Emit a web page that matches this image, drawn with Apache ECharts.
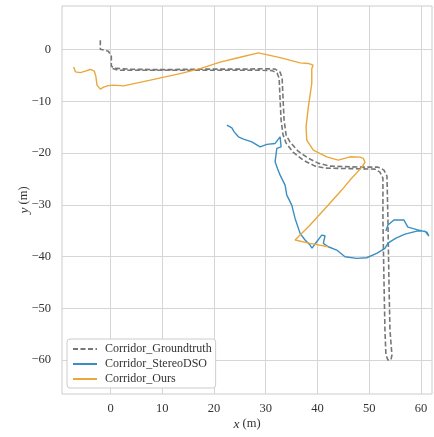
<!DOCTYPE html>
<html>
<head>
<meta charset="utf-8">
<script src="https://cdn.jsdelivr.net/npm/echarts@6/dist/echarts.min.js"></script>
<style>
html,body{margin:0;padding:0;background:#fff;}
#chart{width:434px;height:437px;}
</style>
</head>
<body>
<div id="chart"></div>
<script>
// ---- data (metres) ----
const seriesNames = ['Corridor_Groundtruth', 'Corridor_StereoDSO', 'Corridor_Ours'];

const gtX = [-1.99,-1.99,-1.22,-0.44,-0.06,0.14,0.14,0.71,3.80,9.60,17.32,25.05,29.88,31.81,32.78,33.17,33.36,33.55,33.94,34.71,36.25,38.18,40.11,42.43,48.22,51.70,52.86,53.44,53.63,53.82,54.02,54.40,54.21,53.63,53.24,53.05,52.86,52.66,52.66,52.08,51.12,46.29,41.46,39.53,37.22,35.28,33.94,33.36,32.97,32.78,32.59,32.20,31.23,28.91,23.12,17.32,11.53,5.74,1.49,0.14];
const gtY = [1.80,0.06,-0.14,-0.33,-0.71,-1.29,-3.22,-3.61,-3.80,-3.90,-3.80,-3.80,-3.71,-3.80,-4.38,-5.54,-9.79,-13.65,-16.54,-17.90,-19.63,-20.99,-21.95,-22.53,-22.72,-22.72,-23.30,-24.46,-32.95,-44.54,-54.19,-59.02,-59.98,-59.98,-59.02,-54.19,-44.54,-32.95,-24.85,-23.69,-23.11,-23.01,-22.92,-22.53,-21.37,-19.83,-18.09,-16.54,-13.65,-9.79,-5.54,-4.58,-4.09,-4.00,-4.00,-4.00,-4.00,-4.00,-4.00,-3.61];

const dsoX = [22.48,23.45,23.89,24.72,25.69,27.31,28.91,30.20,31.81,32.78,32.97,32.14,31.81,32.30,32.78,33.74,34.07,35.03,35.67,36.64,37.60,38.57,38.95,39.86,40.83,41.46,41.14,42.10,43.72,45.33,47.59,49.52,51.45,53.05,53.63,55.18,56.92,59.23,60.78,61.55,61.16,59.23,57.49,56.72,54.79,53.63,53.24];
const dsoY = [-14.61,-15.14,-15.91,-16.87,-17.32,-17.84,-18.80,-18.34,-18.15,-16.87,-18.80,-19.11,-21.70,-23.10,-24.27,-26.20,-28.13,-30.06,-32.63,-35.52,-36.81,-37.78,-38.36,-37.14,-35.85,-35.98,-37.45,-38.11,-38.74,-40.04,-40.35,-40.23,-39.38,-38.42,-37.39,-36.43,-35.66,-35.08,-35.08,-36.04,-35.27,-34.79,-34.31,-32.95,-32.95,-33.92,-35.08];

const oursX = [-7.15,-6.82,-5.85,-4.88,-3.92,-3.15,-2.86,-2.63,-1.99,-1.35,-0.44,0.58,2.51,7.67,13.46,17.32,21.18,25.05,28.58,32.78,36.64,38.24,39.15,38.90,38.90,38.24,37.79,37.93,39.20,41.79,44.03,46.29,48.22,48.86,49.19,48.61,46.29,44.69,41.79,38.57,35.67,38.57,42.10];
const oursY = [-3.36,-4.32,-4.48,-4.19,-3.86,-4.19,-5.15,-6.89,-7.66,-7.28,-6.99,-6.89,-7.03,-5.93,-4.67,-3.71,-2.45,-1.49,-0.66,-1.58,-2.59,-2.70,-3.03,-3.71,-6.56,-11.08,-14.94,-17.51,-19.44,-20.73,-21.37,-20.73,-20.79,-21.04,-21.76,-22.72,-25.23,-27.16,-30.39,-33.92,-36.81,-37.45,-38.11];

const xTicks = [0, 10, 20, 30, 40, 50, 60];
const yTicks = [0, -10, -20, -30, -40, -50, -60];

const zip = (xs, ys) => xs.map((x, i) => [x, ys[i]]);
const fmt = v => String(v).replace('-', '\u2212');
const font = "'Liberation Serif', 'Times New Roman', serif";

const chart = echarts.init(document.getElementById('chart'), null, {renderer: 'canvas'});
chart.setOption({
  animation: false,
  backgroundColor: '#ffffff',
  textStyle: {fontFamily: font},
  grid: {left: 62, right: 2, top: 6, bottom: 43, show: true, borderColor: '#cccccc', borderWidth: 1, backgroundColor: 'transparent'},
  xAxis: {
    type: 'value', min: -9.4, max: 62.15,
    axisLine: {show: false},
    axisTick: {show: false, customValues: xTicks},
    axisLabel: {customValues: xTicks, formatter: fmt, fontFamily: font, fontSize: 12.5, color: '#333333', margin: 8},
    splitLine: {show: true, lineStyle: {color: '#d6d6d6', width: 1}},
    name: '{i|x} (m)', nameLocation: 'middle', nameGap: 23, nameMoveOverlap: false,
    nameTextStyle: {fontFamily: font, fontSize: 12.5, color: '#333333', rich: {i: {fontStyle: 'italic', fontFamily: font, fontSize: 13.5, color: '#333333'}}}
  },
  yAxis: {
    type: 'value', min: -66.55, max: 8.4,
    axisLine: {show: false},
    axisTick: {show: false, customValues: yTicks},
    axisLabel: {customValues: yTicks, formatter: fmt, fontFamily: font, fontSize: 12.5, color: '#333333', margin: 11},
    splitLine: {show: true, lineStyle: {color: '#d6d6d6', width: 1}},
    name: '{i|y} (m)', nameLocation: 'middle', nameGap: 31, nameRotate: 90, nameMoveOverlap: false,
    nameTextStyle: {fontFamily: font, fontSize: 12.5, color: '#333333', rich: {i: {fontStyle: 'italic', fontFamily: font, fontSize: 13.5, color: '#333333'}}}
  },
  legend: {
    orient: 'vertical', left: 67, bottom: 49,
    data: seriesNames,
    icon: 'inherit',
    itemWidth: 24, itemHeight: 14, itemGap: 3,
    padding: [4, 4, 3, 5],
    itemStyle: {opacity: 0},
    backgroundColor: '#ffffff', borderColor: '#cccccc', borderWidth: 1, borderRadius: 3,
    textStyle: {fontFamily: font, fontSize: 12, color: '#333333', padding: [0, 0, 0, 3]}
  },
  series: [
    {name: seriesNames[0], type: 'line', data: zip(gtX, gtY), showSymbol: false, symbol: 'none',
     lineStyle: {color: '#777777', width: 1.6, type: [5, 2.5]}, itemStyle: {color: '#777777'}},
    {name: seriesNames[1], type: 'line', data: zip(dsoX, dsoY), showSymbol: false, symbol: 'none',
     lineStyle: {color: '#3a8ec3', width: 1.4}, itemStyle: {color: '#3a8ec3'}},
    {name: seriesNames[2], type: 'line', data: zip(oursX, oursY), showSymbol: false, symbol: 'none',
     lineStyle: {color: '#eba73b', width: 1.4}, itemStyle: {color: '#eba73b'}}
  ]
});
</script>
</body>
</html>
